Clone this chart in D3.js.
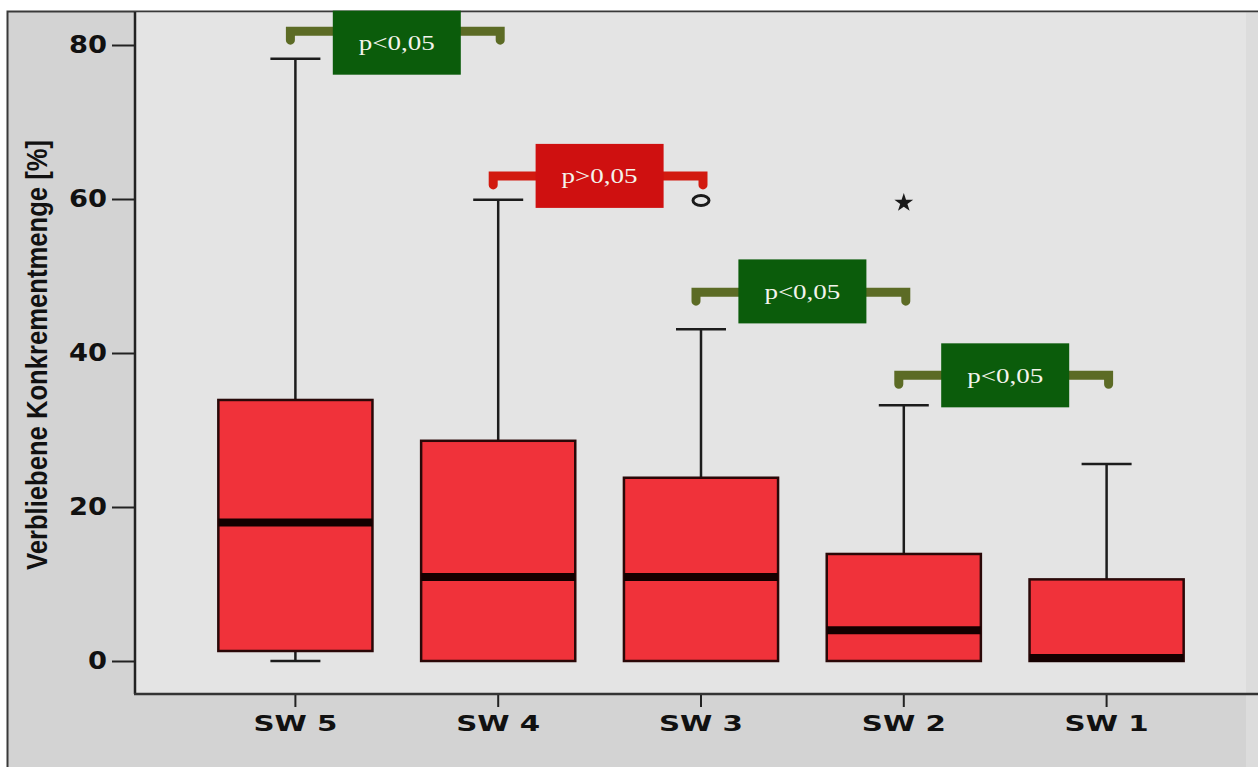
<!DOCTYPE html>
<html>
<head>
<meta charset="utf-8">
<script src="https://cdn.jsdelivr.net/npm/d3@7"></script>
<style>
  body { margin: 0; background: #ffffff; }
  .axis text { font-family: "DejaVu Sans", sans-serif; font-weight: bold; fill: #111; }
  .axis line { stroke: #222; stroke-width: 2px; }
</style>
</head>
<body>
<div id="chart"></div>
<script>
// Boxplot data (percent of remaining concrement)
var groups = ["SW 5", "SW 4", "SW 3", "SW 2", "SW 1"];
var whiskerLow = [0, 0, 0, 0, 0];
var q1 = [1.3, 0, 0, 0, 0];
var median = [18, 10.9, 10.9, 4, 0];
var q3 = [33.9, 28.6, 23.8, 13.9, 10.6];
var whiskerHigh = [78.2, 59.9, 43.1, 33.2, 25.6];

var outlierGroups = ["SW 3"];
var outlierValues = [59.8];
var extremeGroups = ["SW 2"];
var extremeValues = [59.5];

var yTicks = [0, 20, 40, 60, 80];

// significance brackets
var compareFrom = ["SW 5", "SW 4", "SW 3", "SW 2"];
var compareTo = ["SW 4", "SW 3", "SW 2", "SW 1"];
var bracketValue = [81.8, 63, 47.9, 37.1];
var labelValue = [80.3, 63, 48, 37.1];
var pLabels = ["p<0,05", "p>0,05", "p<0,05", "p<0,05"];

var svgWidth = 1258, svgHeight = 767;
var plot = {left: 135, top: 12, right: 1246, bottom: 694};

var svg = d3.select("#chart").append("svg")
  .attr("width", svgWidth)
  .attr("height", svgHeight);

// outer frame + plot background
svg.append("rect")
  .attr("x", 7.5).attr("y", 11.5)
  .attr("width", svgWidth + 20).attr("height", svgHeight + 20)
  .attr("fill", "#d3d3d3")
  .attr("stroke", "#3a3a3a")
  .attr("stroke-width", 2);

svg.append("rect")
  .attr("x", plot.right).attr("y", 12.5)
  .attr("width", svgWidth - plot.right).attr("height", svgHeight)
  .attr("fill", "#dcdcdc");

svg.append("rect")
  .attr("x", plot.left).attr("y", plot.top + 0.5)
  .attr("width", plot.right - plot.left)
  .attr("height", plot.bottom - plot.top - 0.5)
  .attr("fill", "#e4e4e4");

var yScale = d3.scaleLinear()
  .domain([0, 80])
  .range([661, 45]);

var xScale = d3.scaleBand()
  .domain(groups)
  .range([194, 1208])
  .padding(0);

var boxWidth = xScale.bandwidth() * 0.76;
var cx = function(g) { return xScale(g) + xScale.bandwidth() / 2; };

// axes
var leftAxis = d3.axisLeft(yScale).tickValues(yTicks).tickSize(23).tickPadding(5);
var bottomAxis = d3.axisBottom(xScale).tickSize(13).tickPadding(5);

svg.append("g")
  .attr("class", "axis")
  .attr("transform", "translate(" + plot.left + ",0)")
  .call(leftAxis)
  .call(g => g.select(".domain").remove())
  .selectAll("text")
  .style("font-size", "24px")
  .attr("textLength", d => String(d).length * 19)
  .attr("lengthAdjust", "spacingAndGlyphs");

svg.append("g")
  .attr("class", "axis")
  .attr("transform", "translate(0," + plot.bottom + ")")
  .call(bottomAxis)
  .call(g => g.select(".domain").remove())
  .selectAll("text")
  .style("font-size", "22px")
  .attr("dy", "0.85em")
  .attr("textLength", 84)
  .attr("lengthAdjust", "spacingAndGlyphs");

// plot borders (axis lines)
svg.append("line")
  .attr("x1", plot.left).attr("x2", plot.left)
  .attr("y1", plot.top).attr("y2", plot.bottom)
  .attr("stroke", "#222").attr("stroke-width", 2.5);

svg.append("line")
  .attr("x1", plot.left - 1).attr("x2", svgWidth)
  .attr("y1", plot.bottom).attr("y2", plot.bottom)
  .attr("stroke", "#333").attr("stroke-width", 2.5);

svg.append("text")
  .attr("transform", "translate(47," + 355 + ") rotate(-90)")
  .attr("text-anchor", "middle")
  .attr("font-family", "Liberation Sans, Arial, sans-serif")
  .attr("font-weight", "bold")
  .attr("font-size", "29px")
  .attr("fill", "#111")
  .attr("textLength", 430)
  .attr("lengthAdjust", "spacingAndGlyphs")
  .text("Verbliebene Konkrementmenge [%]");

// whiskers
var boxes = svg.append("g");
var idx = d3.range(groups.length);

boxes.selectAll(".whisker-up")
  .data(idx).enter().append("line")
  .attr("x1", i => cx(groups[i])).attr("x2", i => cx(groups[i]))
  .attr("y1", i => yScale(q3[i])).attr("y2", i => yScale(whiskerHigh[i]))
  .attr("stroke", "#1c1c1c").attr("stroke-width", 2.5);

boxes.selectAll(".whisker-down")
  .data(idx.filter(i => q1[i] > whiskerLow[i])).enter().append("line")
  .attr("x1", i => cx(groups[i])).attr("x2", i => cx(groups[i]))
  .attr("y1", i => yScale(q1[i])).attr("y2", i => yScale(whiskerLow[i]))
  .attr("stroke", "#1c1c1c").attr("stroke-width", 2.5);

boxes.selectAll(".cap-up")
  .data(idx).enter().append("line")
  .attr("x1", i => cx(groups[i]) - 25).attr("x2", i => cx(groups[i]) + 25)
  .attr("y1", i => yScale(whiskerHigh[i])).attr("y2", i => yScale(whiskerHigh[i]))
  .attr("stroke", "#1c1c1c").attr("stroke-width", 2.5);

boxes.selectAll(".cap-down")
  .data(idx.filter(i => q1[i] > whiskerLow[i])).enter().append("line")
  .attr("x1", i => cx(groups[i]) - 25).attr("x2", i => cx(groups[i]) + 25)
  .attr("y1", i => yScale(whiskerLow[i])).attr("y2", i => yScale(whiskerLow[i]))
  .attr("stroke", "#1c1c1c").attr("stroke-width", 2.5);

boxes.selectAll(".box")
  .data(idx).enter().append("rect")
  .attr("x", i => cx(groups[i]) - boxWidth / 2)
  .attr("y", i => yScale(q3[i]))
  .attr("width", boxWidth)
  .attr("height", i => yScale(q1[i]) - yScale(q3[i]))
  .attr("fill", "#f0323a")
  .attr("stroke", "#2a0808")
  .attr("stroke-width", 2.5);

boxes.selectAll(".median")
  .data(idx).enter().append("line")
  .attr("x1", i => cx(groups[i]) - boxWidth / 2)
  .attr("x2", i => cx(groups[i]) + boxWidth / 2)
  .attr("y1", i => yScale(median[i]) - (median[i] === 0 ? 3 : 0))
  .attr("y2", i => yScale(median[i]) - (median[i] === 0 ? 3 : 0))
  .attr("stroke", "#140000")
  .attr("stroke-width", 8);

// outlier (o) and extreme (*)
svg.selectAll(".outlier")
  .data(outlierValues).enter().append("ellipse")
  .attr("cx", (d, i) => cx(outlierGroups[i]))
  .attr("cy", d => yScale(d))
  .attr("rx", 8).attr("ry", 5)
  .attr("fill", "none")
  .attr("stroke", "#1a1a1a")
  .attr("stroke-width", 3);

svg.selectAll(".extreme")
  .data(extremeValues).enter().append("path")
  .attr("transform", (d, i) => "translate(" + cx(extremeGroups[i]) + "," + yScale(d) + ")")
  .attr("d", d3.symbol(d3.symbolStar, 110))
  .attr("fill", "#1a1a1a");

// significance brackets with labels
var pIdx = d3.range(pLabels.length);
var bracketColor = i => pLabels[i].indexOf(">") >= 0 ? "#d21a10" : "#5c6b25";
var labelColor = i => pLabels[i].indexOf(">") >= 0 ? "#cf1010" : "#0b5c0b";

svg.selectAll(".bracket")
  .data(pIdx).enter().append("path")
  .attr("d", function(i) {
    var x1 = cx(compareFrom[i]) - 5, x2 = cx(compareTo[i]) + 2, y = yScale(bracketValue[i]);
    return "M" + x1 + "," + (y + 9) + "L" + x1 + "," + y + "L" + x2 + "," + y + "L" + x2 + "," + (y + 9);
  })
  .attr("fill", "none")
  .attr("stroke", bracketColor)
  .attr("stroke-width", 9)
  .attr("stroke-linecap", "round")
  .attr("stroke-linejoin", "miter");

svg.selectAll(".plabel-box")
  .data(pIdx).enter().append("rect")
  .attr("x", i => (cx(compareFrom[i]) + cx(compareTo[i])) / 2 - 64)
  .attr("y", i => yScale(labelValue[i]) - 32)
  .attr("width", 128)
  .attr("height", 64)
  .attr("fill", labelColor);

svg.selectAll(".plabel")
  .data(pIdx).enter().append("text")
  .attr("x", i => (cx(compareFrom[i]) + cx(compareTo[i])) / 2)
  .attr("y", i => yScale(labelValue[i]))
  .attr("dy", "0.33em")
  .attr("text-anchor", "middle")
  .attr("font-family", "Liberation Serif, serif")
  .attr("font-size", "22px")
  .attr("fill", "#f4f4ec")
  .attr("textLength", 76)
  .attr("lengthAdjust", "spacingAndGlyphs")
  .text(i => pLabels[i]);
</script>
</body>
</html>
